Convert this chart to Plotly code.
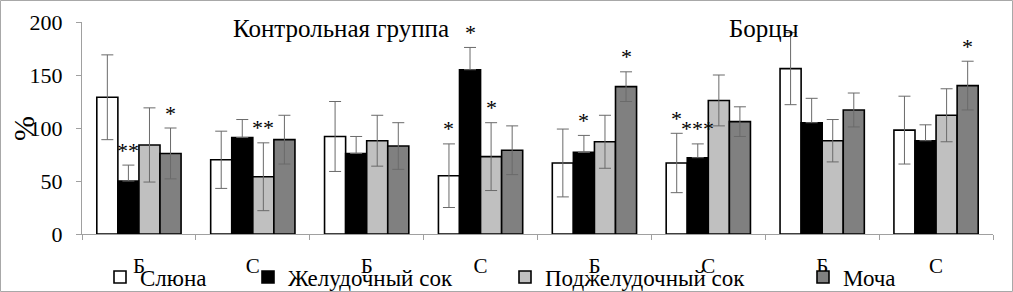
import plotly.graph_objects as go

groups = ["Б", "С", "Б", "С", "Б", "С", "Б", "С"]
series_names = ["Слюна", "Желудочный сок", "Поджелудочный сок", "Моча"]
saliva = [129, 70, 92, 55, 67, 67, 156, 98]
saliva_err = [40, 27, 33, 30, 32, 28, 34, 32]
gastric = [50, 91, 76, 155, 77, 72, 105, 88]
gastric_err = [15, 17, 16, 21, 16, 13, 23, 15]
pancreatic = [84, 54, 88, 73, 87, 126, 88, 112]
pancreatic_err = [35, 32, 24, 32, 25, 24, 20, 25]
urine = [76, 89, 83, 79, 139, 106, 117, 140]
urine_err = [24, 23, 22, 23, 14, 14, 16, 23]
# significance marks: (group index, series index, text)
stars = [(0, 1, "**"), (0, 3, "*"), (1, 2, "**"), (3, 0, "*"), (3, 1, "*"),
         (3, 2, "*"), (4, 1, "*"), (4, 3, "*"), (5, 0, "*"), (5, 1, "***"),
         (7, 3, "*")]
panel_titles = ["Контрольная группа", "Борцы"]
y_title = "%"
y_ticks = [0, 50, 100, 150, 200]

FONT = "Liberation Serif"
colors = ["#ffffff", "#000000", "#c0c0c0", "#808080"]
values = [saliva, gastric, pancreatic, urine]
errs = [saliva_err, gastric_err, pancreatic_err, urine_err]
xs = list(range(len(groups)))

W, H = 1013, 292
ml, mr, mt, mb = 82, 20, 22, 58
pw, ph = W - ml - mr, H - mt - mb

legend_ids = ["legend", "legend2", "legend3", "legend4"]
legend_left_px = [100, 248, 505, 803]

fig = go.Figure()
for i in range(4):
    err = dict(type="data", array=errs[i], color="#6a6a6a", thickness=1, width=6, visible=True)
    if i == 1:
        err["symmetric"] = False
        err["arrayminus"] = [0] * len(groups)
    fig.add_trace(go.Bar(
        x=xs, y=values[i], name=series_names[i], legend=legend_ids[i],
        marker=dict(color=colors[i], line=dict(color="#000000", width=1.6)),
        error_y=err,
    ))

bargap = 0.26
bw = (1 - bargap) / 4
for g, s, t in stars:
    fig.add_annotation(
        x=g + (s - 1.5) * bw, y=values[s][g] + errs[s][g],
        text=t, showarrow=False, yanchor="middle", yshift=15,
        font=dict(family=FONT, size=22, color="#000"),
    )

fig.add_annotation(x=1.77, y=200, text=panel_titles[0], showarrow=False,
                   xanchor="center", yanchor="middle", yshift=-6,
                   font=dict(family=FONT, size=25, color="#000"))
fig.add_annotation(x=5.49, y=200, text=panel_titles[1], showarrow=False,
                   xanchor="center", yanchor="middle", yshift=-6,
                   font=dict(family=FONT, size=25, color="#000"))

# y-axis title
fig.add_annotation(xref="paper", yref="paper", x=(23 - ml) / pw, y=(234 - 129) / ph,
                   text=y_title, textangle=-90, showarrow=False,
                   xanchor="center", yanchor="middle",
                   font=dict(family=FONT, size=30, color="#000"))

fig.add_shape(type="rect", xref="paper", yref="paper",
              x0=(0.5 - ml) / pw, x1=(W - 0.5 - ml) / pw,
              y0=-(mb - 0.5) / ph, y1=1 + (mt - 0.5) / ph,
              line=dict(color="#a8a8a8", width=1), fillcolor="rgba(0,0,0,0)")

legend_layout = {}
for lid, lx in zip(legend_ids, legend_left_px):
    legend_layout[lid] = dict(
        orientation="h", x=(lx - ml) / pw, xanchor="left",
        y=(234 - 277) / ph, yanchor="middle",
        font=dict(family=FONT, size=23, color="#000"),
        itemwidth=30, bgcolor="rgba(0,0,0,0)", borderwidth=0,
    )

fig.update_layout(
    width=W, height=H,
    margin=dict(l=ml, r=mr, t=mt, b=mb, autoexpand=False),
    paper_bgcolor="#ffffff", plot_bgcolor="#ffffff",
    barmode="group", bargap=bargap, bargroupgap=0,
    font=dict(family=FONT, color="#000"),
    showlegend=True,
    xaxis=dict(range=[-0.5, 7.5], tickmode="array", tickvals=xs, ticktext=groups,
               ticks="", showline=True, linecolor="#a0a0a0", linewidth=1,
               showgrid=False, zeroline=False, ticklabelstandoff=13,
               tickfont=dict(family=FONT, size=21, color="#000"),
               minor=dict(tickmode="linear", tick0=-0.5, dtick=1, ticks="outside",
                          ticklen=5, tickcolor="#a0a0a0", showgrid=False)),
    yaxis=dict(range=[0, 200], tickvals=y_ticks, ticks="outside", ticklen=5,
               tickcolor="#a0a0a0", showline=True, linecolor="#a0a0a0", linewidth=1,
               showgrid=False, zeroline=False, ticklabelstandoff=9,
               tickfont=dict(family=FONT, size=22, color="#000")),
    **legend_layout,
)

fig.write_html("out.html", config={"displayModeBar": False},
               post_script="document.body.style.margin='0px';")
